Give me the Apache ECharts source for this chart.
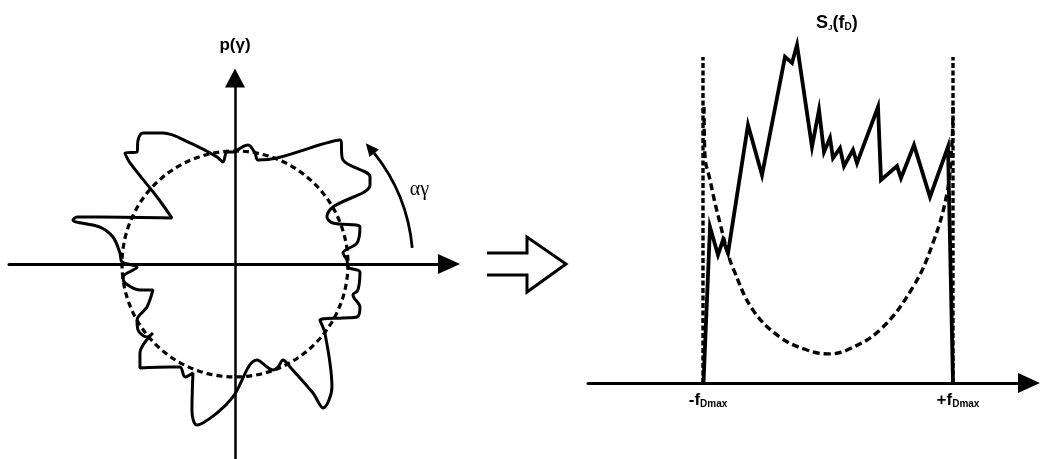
<!DOCTYPE html>
<html>
<head>
<meta charset="utf-8">
<style>
  html, body { margin: 0; padding: 0; background: #fff; }
  #chart { width: 1041px; height: 459px; }
</style>
<script src="https://cdn.jsdelivr.net/npm/echarts@6/dist/echarts.min.js"></script>
</head>
<body>
<div id="chart"></div>
<script>
// ---- Left panel: angular distribution p(γ), unit = radius of the isotropic circle ----
const angularX = [0, 0.115, 0.177, 0.204, 0.372, 0.929, 0.956, 1.195, 1.195, 0.867, 0.814, 0.867, 1.106, 1.080,
  0.956, 0.991, 1.0, 1.106, 1.088, 1.044, 1.106, 1.080, 0.956, 0.752, 0.796, 0.858, 0.779, 0.690, 0.487, 0.425,
  0.381, 0.336, 0.195, -0.018, -0.159, -0.336, -0.381, -0.372, -0.442, -0.487, -0.575, -0.841, -0.841, -0.726,
  -0.779, -0.858, -0.867, -0.779, -0.726, -0.841, -0.973, -0.991, -0.867, -1.0, -1.018, -1.080, -1.195, -1.434,
  -1.398, -1.195, -0.558, -0.690, -0.929, -0.973, -0.867, -0.858, -0.814, -0.637, -0.398, -0.159, -0.106, -0.071, 0];
const angularY = [0.991, 1.053, 0.982, 0.920, 0.938, 1.097, 0.920, 0.770, 0.699, 0.504, 0.416, 0.363, 0.327, 0.186,
  0.097, 0.035, -0.027, -0.071, -0.230, -0.274, -0.381, -0.469, -0.478, -0.496, -0.611, -1.088, -1.274, -1.142,
  -0.912, -0.850, -0.912, -0.938, -0.850, -1.177, -1.319, -1.425, -1.292, -0.965, -1.0, -0.912, -0.912, -0.920,
  -0.788, -0.611, -0.646, -0.584, -0.496, -0.381, -0.230, -0.230, -0.168, -0.115, -0.027, 0.018, 0.097, 0.239,
  0.327, 0.389, 0.416, 0.416, 0.407, 0.593, 0.894, 0.982, 0.991, 1.097, 1.159, 1.159, 1.071, 0.947, 0.903, 0.991, 0.991];
const isotropicCircle = [[0, 0, 1]];            // centre x, centre y, radius
const rotationArc = [[1.575, 5.2, 42.7]];       // radius, from angle (deg), to angle (deg)
const rotationLabel = { text: 'αγ', radius: 1.76, angle: 22 };
const leftAxisName = 'p(γ)';

// ---- Right panel: Doppler spectrum S_J(f_D), f in units of f_Dmax ----
const spectrumF = [-0.996, -0.944, -0.88, -0.84, -0.80, -0.64, -0.528, -0.344, -0.288, -0.248, -0.128, -0.072,
  -0.032, 0.016, 0.04, 0.096, 0.128, 0.2, 0.232, 0.4, 0.424, 0.552, 0.584, 0.688, 0.816, 0.96, 1.0];
const spectrumS = [0, 5.2, 4.27, 4.77, 4.33, 8.6, 6.93, 10.87, 10.67, 11.27, 7.87, 9.1,
  7.7, 8.17, 7.5, 7.83, 7.23, 7.77, 7.33, 9.2, 6.77, 7.23, 6.83, 7.93, 6.2, 7.87, 0];
const classicF = [-0.992, -0.984, -0.944, -0.904, -0.864, -0.808, -0.76, -0.6, -0.384, -0.168, 0,
  0.152, 0.416, 0.68, 0.84, 0.952, 0.992, 1.0];
const classicS = [9.2, 7.53, 6.77, 6.0, 5.33, 4.43, 3.83, 2.43, 1.53, 1.1, 0.97,
  1.1, 1.77, 3.2, 4.67, 6.33, 8.0, 9.2];
const edgeF = [-1, 1];
const edgeHeight = 10.87;
const tickLabels = ['-f', '+f'];
const tickSub = 'Dmax';

const INK = '#000';
const zip = (a, b) => a.map((v, i) => [v, b[i]]);

const chart = echarts.init(document.getElementById('chart'), null, { renderer: 'canvas' });

// dashed vertical limits at ±f_Dmax
const edgeSeries = edgeF.map(f => ({
  type: 'line', xAxisIndex: 1, yAxisIndex: 1, silent: true, showSymbol: false,
  data: [[f, 0], [f, edgeHeight]],
  lineStyle: { color: INK, width: 3.4, type: [5, 2.5], cap: 'butt', opacity: 1 }
}));

const option = {
  animation: false,
  backgroundColor: '#fff',
  title: {
    text: '{m|S}{j|J}{m|(f}{s|D}{m|)}',
    left: 811, top: 7,
    textStyle: {
      rich: {
        m: { fontFamily: 'Liberation Sans', fontWeight: 'bold', fontSize: 18, color: INK, verticalAlign: 'bottom', lineHeight: 20 },
        j: { fontFamily: 'Liberation Sans', fontWeight: 'bold', fontSize: 8, color: INK, verticalAlign: 'bottom', lineHeight: 8, padding: [16, 0, 0, 0] },
        s: { fontFamily: 'Liberation Sans', fontWeight: 'bold', fontSize: 10, color: INK, verticalAlign: 'bottom', lineHeight: 10, padding: [13, 0, 0, 0] }
      }
    }
  },
  graphic: [{
    // hollow double arrow between the panels
    type: 'polyline',
    shape: { points: [[487, 253], [527, 253], [527, 237], [566, 264], [527, 292], [527, 275], [487, 275]] },
    style: { fill: 'none', stroke: INK, lineWidth: 3, lineJoin: 'miter' }
  }],
  grid: [
    { left: 9, top: 78, width: 440, height: 381 },
    { left: 588, top: 23, width: 441, height: 360 }
  ],
  xAxis: [
    {
      gridIndex: 0, type: 'value', min: -2, max: 1.894,
      axisLine: { onZero: true, symbol: ['none', 'triangle'], symbolSize: [20, 22], lineStyle: { color: INK, width: 3 } },
      axisTick: { show: false }, axisLabel: { show: false }, splitLine: { show: false }
    },
    {
      gridIndex: 1, type: 'value', min: -1.92, max: 1.608,
      axisLine: { onZero: true, symbol: ['none', 'triangle'], symbolSize: [20, 22], lineStyle: { color: INK, width: 3 } },
      axisTick: { show: false }, splitLine: { show: false },
      axisLabel: {
        show: true,
        customValues: edgeF,
        margin: 9,
        formatter: v => '{m|' + tickLabels[v < 0 ? 0 : 1] + '}{s|' + tickSub + '}',
        rich: {
          m: { fontFamily: 'Liberation Sans', fontWeight: 'bold', fontSize: 17, color: INK, verticalAlign: 'bottom', lineHeight: 17, padding: [0, 0, 0, 10] },
          s: { fontFamily: 'Liberation Sans', fontWeight: 'bold', fontSize: 10, color: INK, verticalAlign: 'bottom', lineHeight: 10, padding: [10, 0, 0, 0] }
        }
      }
    }
  ],
  yAxis: [
    {
      gridIndex: 0, type: 'value', min: -1.726, max: 1.646,
      name: leftAxisName, nameLocation: 'end', nameGap: 24,
      nameTextStyle: { fontFamily: 'Liberation Sans', fontWeight: 'bold', fontSize: 17, color: INK },
      axisLine: { onZero: true, symbol: ['none', 'triangle'], symbolSize: [20, 19], lineStyle: { color: INK, width: 2.5 } },
      axisTick: { show: false }, axisLabel: { show: false }, splitLine: { show: false }
    },
    {
      gridIndex: 1, type: 'value', min: 0, max: 12, show: false
    }
  ],
  series: [
    {
      name: 'p(γ)', type: 'line', xAxisIndex: 0, yAxisIndex: 0,
      data: zip(angularX, angularY), smooth: 0.35, showSymbol: false, silent: true,
      lineStyle: { color: INK, width: 3 }
    },
    {
      type: 'custom', xAxisIndex: 0, yAxisIndex: 0, data: isotropicCircle, silent: true,
      renderItem: (params, api) => {
        const c = api.coord([api.value(0), api.value(1)]);
        const e = api.coord([api.value(0) + api.value(2), api.value(1)]);
        return {
          type: 'circle',
          shape: { cx: c[0], cy: c[1], r: e[0] - c[0] },
          style: { fill: 'none', stroke: INK, lineWidth: 3.2, lineDash: [6, 4] }
        };
      }
    },
    {
      type: 'custom', xAxisIndex: 0, yAxisIndex: 0, data: rotationArc, silent: true,
      renderItem: (params, api) => {
        const c = api.coord([0, 0]);
        const unit = api.coord([1, 0])[0] - c[0];
        const r = api.value(0) * unit;
        const a0 = api.value(1) * Math.PI / 180;
        const a1 = api.value(2) * Math.PI / 180;
        const headLen = 13, headHalf = 6;
        const aBase = a1 - headLen / r;
        const tip = [c[0] + r * Math.cos(a1), c[1] - r * Math.sin(a1)];
        const base = [c[0] + r * Math.cos(aBase), c[1] - r * Math.sin(aBase)];
        const nx = Math.cos(aBase), ny = -Math.sin(aBase);
        const la = rotationLabel.angle * Math.PI / 180;
        const lr = rotationLabel.radius * unit;
        return {
          type: 'group',
          children: [
            {
              type: 'arc',
              shape: { cx: c[0], cy: c[1], r: r, startAngle: -aBase, endAngle: -a0, clockwise: true },
              style: { fill: 'none', stroke: INK, lineWidth: 2.8 }
            },
            {
              type: 'polygon',
              shape: { points: [tip, [base[0] + headHalf * nx, base[1] + headHalf * ny], [base[0] - headHalf * nx, base[1] - headHalf * ny]] },
              style: { fill: INK, stroke: 'none' }
            },
            {
              type: 'text',
              x: c[0] + lr * Math.cos(la), y: c[1] - lr * Math.sin(la),
              style: { text: rotationLabel.text, fontFamily: 'Liberation Serif', fontSize: 20, fill: INK, align: 'center', verticalAlign: 'middle' }
            }
          ]
        };
      }
    },
    ...edgeSeries,
    {
      name: 'classic', type: 'line', xAxisIndex: 1, yAxisIndex: 1,
      data: zip(classicF, classicS), smooth: 0.4, showSymbol: false, silent: true,
      lineStyle: { color: INK, width: 3.4, type: [7, 4], cap: 'butt' }
    },
    {
      name: 'S_J(f_D)', type: 'line', xAxisIndex: 1, yAxisIndex: 1,
      data: zip(spectrumF, spectrumS), showSymbol: false, silent: true,
      lineStyle: { color: INK, width: 3.8, join: 'miter' }
    }
  ]
};

chart.setOption(option);
</script>
</body>
</html>
